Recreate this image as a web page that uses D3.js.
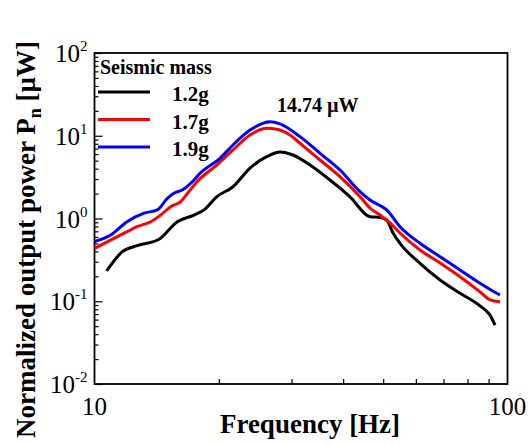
<!DOCTYPE html>
<html>
<head>
<meta charset="utf-8">
<script src="https://cdn.jsdelivr.net/npm/d3@7"></script>
<style>
  body { margin: 0; background: #fff; }
  text { font-family: "Liberation Serif", "Times New Roman", serif; }
</style>
</head>
<body>
<svg id="chart"></svg>
<script>
// Data (frequency in Hz, power in µW)
const series = ["1.2g", "1.7g", "1.9g"];
const colors = ["#000000", "#ff0000", "#0000ff"];

const freq12 = [10.7, 11.68, 12.69, 14.33, 15.87, 17.42, 18.42, 19.76, 21.64, 23.8, 26.12, 28.13, 30.24, 33.25, 37.16, 41.56, 46.46, 49.12, 50.99, 52.82, 54.91, 61.4, 68.66, 76.74, 85.78, 90.72, 93.28];
const power12 = [0.232, 0.397, 0.469, 0.561, 0.914, 1.10, 1.27, 1.83, 2.42, 4.07, 5.58, 6.37, 5.85, 4.43, 2.92, 1.83, 1.05, 1.03, 0.959, 0.668, 0.502, 0.287, 0.181, 0.125, 0.088, 0.068, 0.0516];

const freq17 = [10, 11.15, 11.99, 12.67, 13.68, 14.46, 15.29, 16.17, 16.84, 17.71, 19.76, 21.64, 23.8, 26.12, 27.62, 29.74, 31.45, 35.16, 39.3, 43.94, 46.46, 49.12, 51.95, 54.91, 61.4, 68.66, 76.74, 85.78, 90.72, 95.9];
const power17 = [0.436, 0.576, 0.692, 0.796, 0.914, 1.10, 1.39, 1.60, 2.05, 2.78, 4.43, 6.73, 10.2, 12.3, 12.0, 10.2, 8.11, 5.09, 3.20, 1.83, 1.34, 1.10, 0.883, 0.668, 0.416, 0.290, 0.198, 0.130, 0.104, 0.0988];

const freq19 = [10, 10.94, 11.99, 13.18, 14.19, 15.01, 15.57, 16.31, 17.42, 18.01, 20.13, 21.64, 23.8, 26.61, 28.13, 31.45, 35.16, 39.3, 43.94, 46.46, 50.99, 54.91, 61.4, 68.66, 76.74, 85.78, 94.17, 95.9];
const power19 = [0.525, 0.632, 0.914, 1.16, 1.27, 1.75, 2.02, 2.21, 2.92, 3.52, 5.34, 7.73, 11.7, 14.8, 13.9, 9.75, 6.14, 3.86, 2.11, 1.67, 1.27, 0.796, 0.502, 0.345, 0.239, 0.165, 0.125, 0.119];

const xTicks = [10, 100];
const yTicks = [0.01, 0.1, 1, 10, 100];
const yExps = ["-2", "-1", "0", "1", "2"];

const W = 528, H = 444;
const margin = { top: 53, right: 20, bottom: 60, left: 94.5 };
const width = 507.5 - margin.left;
const height = 384 - margin.top;

const svg = d3.select("#chart").attr("width", W).attr("height", H);
const g = svg.append("g").attr("transform", `translate(${margin.left},${margin.top})`);

const x = d3.scaleLog().domain([10, 100]).range([0, width]);
const y = d3.scaleLog().domain([0.01, 100]).range([height, 0]);

// minor ticks
const xMinor = d3.range(20, 100, 10);
const yMinor = [];
[0.01, 0.1, 1, 10].forEach(d => { for (let k = 2; k <= 9; k++) yMinor.push(d * k); });

g.append("g")
    .attr("transform", `translate(0,${height})`)
    .call(d3.axisBottom(x).tickValues(xMinor).tickSize(-5).tickFormat(""))
    .call(a => a.select(".domain").remove());
g.append("g")
    .call(d3.axisLeft(y).tickValues(yMinor).tickSize(-4).tickFormat(""))
    .call(a => a.select(".domain").remove());
g.append("g")
    .call(d3.axisLeft(y).tickValues(yTicks).tickSize(-8).tickFormat(""))
    .call(a => a.select(".domain").remove());
g.selectAll(".tick line").attr("stroke", "#000").attr("stroke-width", 1.2);

// frame
g.append("rect")
    .attr("width", width).attr("height", height)
    .attr("fill", "none").attr("stroke", "#000").attr("stroke-width", 1.8);

// y tick labels with exponents
const yl = g.selectAll(".ylab").data(yTicks).enter().append("text")
    .attr("x", -7).attr("y", d => y(d) + 9)
    .attr("text-anchor", "end").attr("font-size", 25);
yl.append("tspan").text("10");
yl.append("tspan").attr("dy", -11).attr("font-size", 15).text((d, i) => yExps[i]);

// x tick labels
g.selectAll(".xlab").data(xTicks).enter().append("text")
    .attr("x", d => x(d)).attr("y", height + 31)
    .attr("text-anchor", "middle").attr("font-size", 25)
    .text(d => d);

// curves
const line = d3.line().x(d => x(d[0])).y(d => y(d[1])).curve(d3.curveMonotoneX);
const freqs = [freq12, freq17, freq19];
const powers = [power12, power17, power19];
series.forEach((s, i) => {
  const pts = d3.zip(freqs[i], powers[i]);
  g.append("path").datum(pts)
      .attr("d", line)
      .attr("fill", "none")
      .attr("stroke", colors[i])
      .attr("stroke-width", 3)
      .attr("stroke-linejoin", "round");
});

// legend
const leg = svg.append("g");
leg.append("text").attr("x", 100).attr("y", 74)
    .attr("font-size", 20).attr("font-weight", "bold").text("Seismic mass");
series.forEach((s, i) => {
  const yy = 92 + i * 27.5;
  leg.append("line").attr("x1", 98).attr("x2", 150).attr("y1", yy).attr("y2", yy)
      .attr("stroke", colors[i]).attr("stroke-width", 3);
  leg.append("text").attr("x", 172).attr("y", yy + 9)
      .attr("font-size", 21).attr("font-weight", "bold").text(s);
});

// peak annotation
svg.append("text").attr("x", 277).attr("y", 112)
    .attr("font-size", 20).attr("font-weight", "bold").text("14.74 \u00b5W");

// axis titles
svg.append("text").attr("x", 310).attr("y", 433)
    .attr("text-anchor", "middle").attr("font-size", 27).attr("font-weight", "bold")
    .text("Frequency [Hz]");

const yt = svg.append("text")
    .attr("transform", "translate(35,438) rotate(-90)")
    .attr("font-size", 27).attr("font-weight", "bold");
yt.append("tspan").text("Normalized output power P");
yt.append("tspan").attr("dy", 6).attr("font-size", 18).text("n");
yt.append("tspan").attr("dy", -6).text(" [\u00b5W]");
</script>
</body>
</html>
